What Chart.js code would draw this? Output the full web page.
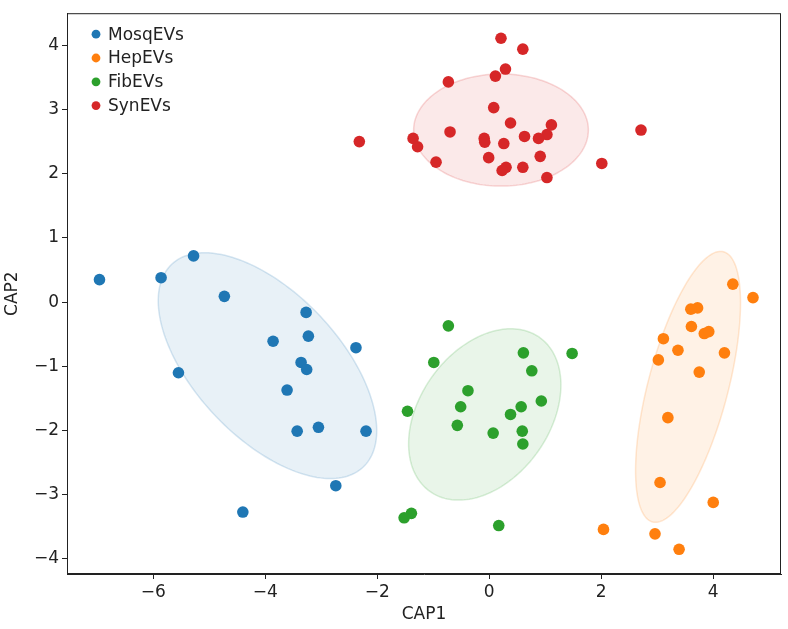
<!DOCTYPE html>
<html>
<head>
<meta charset="utf-8">
<script src="https://cdn.jsdelivr.net/npm/chart.js@4"></script>
<style>
  html, body { margin: 0; padding: 0; background: #fff; }
</style>
</head>
<body>
<canvas id="myChart" width="788" height="629"></canvas>
<script>
// grupos y colores (tab10)
const grupos = ["MosqEVs", "HepEVs", "FibEVs", "SynEVs"]
const colores = ["#1f77b4", "#ff7f0e", "#2ca02c", "#d62728"]

// CAP1 / CAP2
const mosqX = [-6.96, -5.86, -5.28, -4.73, -3.27, -3.86, -3.23, -2.38, -3.36, -3.26, -5.55, -3.61, -3.43, -3.05, -2.20, -2.74, -4.40]
const mosqY = [0.35, 0.38, 0.72, 0.09, -0.16, -0.61, -0.53, -0.71, -0.94, -1.05, -1.10, -1.37, -2.01, -1.95, -2.01, -2.86, -3.27]

const hepX = [4.35, 4.71, 3.72, 3.60, 3.61, 3.11, 3.84, 3.92, 3.37, 4.20, 3.02, 3.75, 3.19, 3.05, 4.00, 2.04, 2.96, 3.39]
const hepY = [0.28, 0.07, -0.09, -0.11, -0.38, -0.57, -0.49, -0.46, -0.75, -0.79, -0.90, -1.09, -1.80, -2.81, -3.12, -3.54, -3.61, -3.85]

const fibX = [-0.73, -0.99, 0.61, 1.48, 0.76, -0.38, -0.51, 0.93, 0.57, 0.38, -1.46, -0.57, 0.07, 0.59, 0.60, -1.39, -1.52, 0.17]
const fibY = [-0.37, -0.94, -0.79, -0.80, -1.07, -1.38, -1.63, -1.54, -1.63, -1.75, -1.70, -1.92, -2.04, -2.01, -2.21, -3.29, -3.36, -3.48]

const synX = [0.21, 0.60, 0.29, 0.11, -0.73, 0.08, 0.38, 1.11, 1.03, 0.88, 0.63, -0.70, -0.09, -0.08, 0.26, -1.36, -1.28, -2.32, 2.71, -0.95, -0.01, 0.91, 0.60, 0.30, 0.23, 2.01, 1.03]
const synY = [4.11, 3.94, 3.63, 3.52, 3.43, 3.03, 2.79, 2.76, 2.61, 2.55, 2.58, 2.65, 2.55, 2.49, 2.47, 2.55, 2.42, 2.50, 2.68, 2.18, 2.25, 2.27, 2.10, 2.10, 2.05, 2.16, 1.94]

// elipses: centro x, centro y, semidiametro U (x, y), semidiametro V (x, y)
const elipseMosq = [-3.96, -0.99, 1.705, -1.583, 0.948, 0.765]
const elipseHep = [3.55, -1.32, 0.633, 2.104, 0.691, -0.156]
const elipseFib = [-0.08, -1.75, 0.973, 1.203, 0.950, -0.577]
const elipseSyn = [0.21, 2.68, 1.56, 0, 0, 0.873]

const xTicks = [-6, -4, -2, 0, 2, 4]
const yTicks = [-4, -3, -2, -1, 0, 1, 2, 3, 4]

const puntos = [[mosqX, mosqY], [hepX, hepY], [fibX, fibY], [synX, synY]]
const elipses = [elipseMosq, elipseHep, elipseFib, elipseSyn]

function conAlfa(hex, a) {
    const r = parseInt(hex.substr(1, 2), 16)
    const g = parseInt(hex.substr(3, 2), 16)
    const b = parseInt(hex.substr(5, 2), 16)
    return "rgba(" + r + "," + g + "," + b + "," + a + ")"
}

function etiqueta(v) {
    return v < 0 ? "\u2212" + Math.abs(v) : String(v)
}

const pluginElipses = {
    id: "elipses",
    beforeDatasetsDraw(chart) {
        const ctx = chart.ctx
        const sx = chart.scales.x
        const sy = chart.scales.y
        const area = chart.chartArea
        ctx.save()
        ctx.beginPath()
        ctx.rect(area.left, area.top, area.right - area.left, area.bottom - area.top)
        ctx.clip()
        elipses.forEach((e, i) => {
            ctx.beginPath()
            for (let k = 0; k <= 180; k++) {
                const t = k / 180 * 2 * Math.PI
                const px = sx.getPixelForValue(e[0] + e[2] * Math.cos(t) + e[4] * Math.sin(t))
                const py = sy.getPixelForValue(e[1] + e[3] * Math.cos(t) + e[5] * Math.sin(t))
                if (k == 0) ctx.moveTo(px, py)
                else ctx.lineTo(px, py)
            }
            ctx.closePath()
            ctx.fillStyle = conAlfa(colores[i], 0.1)
            ctx.fill()
            ctx.strokeStyle = conAlfa(colores[i], 0.18)
            ctx.lineWidth = 1.5
            ctx.stroke()
        })
        ctx.restore()
    }
}

const pluginMarco = {
    id: "marco",
    afterDatasetsDraw(chart) {
        const ctx = chart.ctx
        const a = chart.chartArea
        ctx.save()
        ctx.strokeStyle = "#222"
        ctx.lineWidth = 1
        ctx.strokeRect(a.left + 0.5, a.top + 0.5, a.right - a.left - 1, a.bottom - a.top - 1)

        // leyenda arriba a la izquierda
        ctx.font = "17px 'DejaVu Sans'"
        ctx.textBaseline = "middle"
        ctx.textAlign = "left"
        chart.data.datasets.forEach((ds, i) => {
            const y = a.top + 21 + i * 23.8
            ctx.beginPath()
            ctx.arc(a.left + 29, y, 4.4, 0, 2 * Math.PI)
            ctx.fillStyle = colores[i]
            ctx.fill()
            ctx.fillStyle = "#222"
            ctx.fillText(ds.label, a.left + 41, y + 1)
        })
        ctx.restore()
    }
}

const datasets = grupos.map((g, i) => ({
    label: g,
    data: puntos[i][0].map((x, j) => ({ x: x, y: puntos[i][1][j] })),
    backgroundColor: colores[i],
    borderWidth: 0,
    pointRadius: 5.8,
    pointHoverRadius: 5.8
}))

Chart.defaults.font.family = "'DejaVu Sans', sans-serif"
Chart.defaults.font.size = 17
Chart.defaults.color = "#222"

new Chart(document.getElementById("myChart"), {
    type: "scatter",
    data: { datasets: datasets },
    options: {
        responsive: false,
        animation: false,
        events: [],
        layout: { padding: { top: 9, right: 7, left: 0, bottom: 0 } },
        plugins: {
            legend: { display: false },
            tooltip: { enabled: false }
        },
        scales: {
            x: {
                type: "linear",
                min: -7.54,
                max: 5.21,
                afterBuildTicks: (s) => { s.ticks = xTicks.map(v => ({ value: v })) },
                afterFit: (s) => { s.height = 55 },
                ticks: { callback: etiqueta, maxRotation: 0, autoSkip: false, padding: 3, color: "#222" },
                grid: { drawOnChartArea: false, drawTicks: true, tickLength: 5, tickColor: "#222" },
                border: { display: true, color: "#222" },
                title: { display: true, text: "CAP1", padding: { top: 2, bottom: 4 }, color: "#222" }
            },
            y: {
                type: "linear",
                min: -4.235,
                max: 4.5,
                afterBuildTicks: (s) => { s.ticks = yTicks.map(v => ({ value: v })) },
                afterFit: (s) => { s.width = 67 },
                ticks: { callback: etiqueta, autoSkip: false, padding: 3, color: "#222" },
                grid: { drawOnChartArea: false, drawTicks: true, tickLength: 5, tickColor: "#222" },
                border: { display: true, color: "#222" },
                title: { display: true, text: "CAP2", padding: { top: 2, bottom: 2 }, color: "#222" }
            }
        }
    },
    plugins: [pluginElipses, pluginMarco]
})
</script>
</body>
</html>
